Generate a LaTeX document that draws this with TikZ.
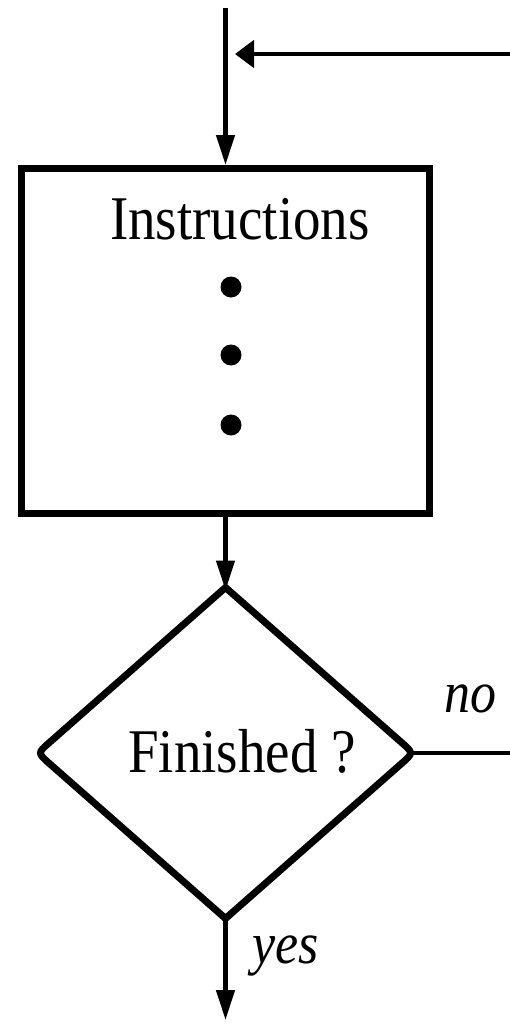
\documentclass[tikz,border=0pt]{standalone}
\usepackage{fontspec}
\setmainfont{Liberation Serif}
\usetikzlibrary{shapes.geometric,arrows.meta,calc}
\newcommand\tallt[1]{\scalebox{1}[1.13]{#1}}
\tikzset{
  boxline/.style={draw, line width=7pt, rectangle, inner sep=0pt},
  decision/.style={diamond, inner sep=0pt, outer sep=0pt},
  dline/.style={line width=7pt, line join=miter},
  conn/.style={line width=4.5pt, -{Triangle[length=30pt,width=18pt]}},
  connL/.style={line width=4.5pt, -{Triangle[length=19pt,width=27pt]}},
  lbl/.style={inner sep=0pt, anchor=base, font=\fontsize{55}{60}\selectfont},
  ilbl/.style={inner sep=0pt, anchor=base, font=\fontsize{52}{60}\selectfont\itshape},
  dotn/.style={circle, fill=black, inner sep=0pt, minimum size=21pt},
}
\begin{document}
\begin{tikzpicture}[x=1pt,y=-1pt]
\useasboundingbox (0,0) rectangle (510,1025);
\node[boxline, minimum width=408pt, minimum height=345pt] (box) at (225.5,341) {};
\node[lbl] (instr) at (240,239) {\tallt{Instructions}};
\node[dotn] (dot1) at (231,287) {};
\node[dotn] (dot2) at (231,355) {};
\node[dotn] (dot3) at (231,425) {};
\node[decision, minimum width=376pt, minimum height=331pt] (d) at (225.5,753) {};
\draw[dline] (d.north) -- ($(d.east)!16pt!(d.north)$) .. controls (d.east) .. ($(d.east)!16pt!(d.south)$)
  -- (d.south) -- ($(d.west)!16pt!(d.south)$) .. controls (d.west) .. ($(d.west)!16pt!(d.north)$) -- cycle;
\node[lbl] (fin) at (242,772) {\tallt{Finished ?}};
\node[ilbl] (no) at (470,712) {\tallt{no}};
\node[ilbl] (yes) at (286,963) {\tallt{yes}};
\coordinate (entry) at (225.5,8);
\coordinate (tipL) at (235,54);
\coordinate (fb) at (540,756);
\coordinate (exit) at (225.5,1020);
\draw[conn] (entry) -- (box.north);
\draw[conn] (box.south) -- ([yshift=-3pt]d.north);
\draw[connL, shorten <=-7pt] (d.east) -- (d.east -| fb) |- (tipL);
\draw[conn] (d.south) -- (exit);
\end{tikzpicture}
\end{document}
